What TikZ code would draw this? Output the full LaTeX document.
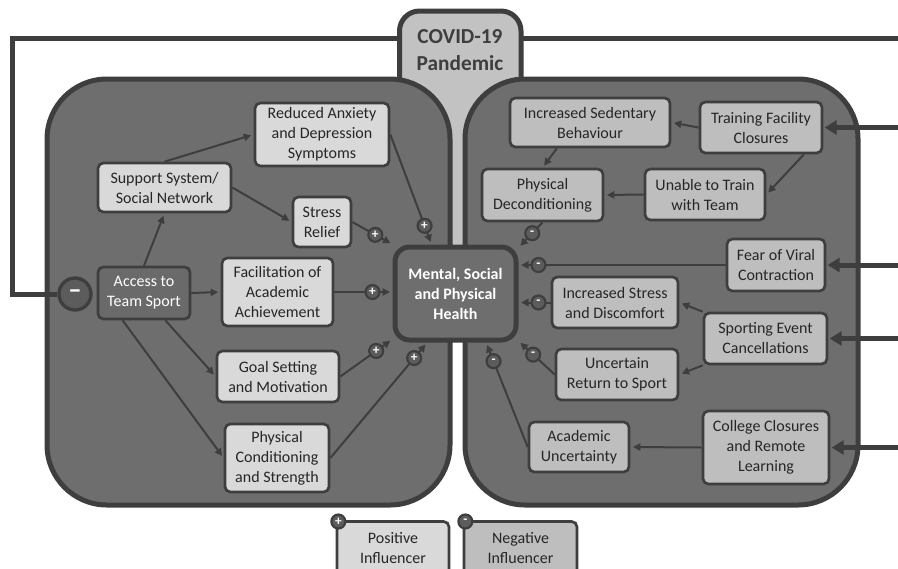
\documentclass[tikz,border=0pt]{standalone}
\usepackage{fontspec}
\setmainfont{Carlito}
\usetikzlibrary{arrows.meta,decorations.markings}

\begin{document}
\begin{tikzpicture}[x=0.75pt, y=-0.75pt,
	px/.style 2 args={minimum width=#1*0.75pt, minimum height=#2*0.75pt},
	basebox/.style={draw=linegray, line width=2pt, rounded corners=4pt, inner sep=0pt, align=center, text=textgray, font=\fontsize{12}{15}\selectfont},
	posbox/.style={basebox, fill=lightbox},
	negbox/.style={basebox, fill=midbox},
	panel/.style={draw=linegray, line width=3.75pt, fill=panelgray, rounded corners=45pt},
	signdot/.style={circle, draw=linegray, line width=1.6pt, fill=dotgray, text=white, inner sep=0pt, minimum size=10.5pt, font=\bfseries\fontsize{10}{10}\selectfont},
	link/.style={draw=linegray, line width=1.5pt, -{Triangle[length=5.5pt,width=5.5pt]}, shorten >=2pt},
	pluslink/.style={link, postaction={decorate}, decoration={markings, mark=at position -15pt with {\node[signdot]{+};}}},
	minuslink/.style={link, postaction={decorate}, decoration={markings, mark=at position -15pt with {\node[signdot]{-};}}},
	feed/.style={draw=linegray, line width=3.75pt},
	feedarrow/.style={feed, -{Triangle[length=9pt,width=10.5pt]}, shorten >=1pt}]
	\definecolor{linegray}{RGB}{62,62,62}
	\definecolor{panelgray}{RGB}{110,110,110}
	\definecolor{lightbox}{RGB}{217,217,217}
	\definecolor{midbox}{RGB}{190,190,190}
	\definecolor{covidgray}{RGB}{194,194,194}
	\definecolor{dotgray}{RGB}{92,92,92}
	\definecolor{accessgray}{RGB}{106,106,106}
	\definecolor{textgray}{RGB}{38,38,38}

	\useasboundingbox (0,0) rectangle (898,568);

	\node[draw=linegray, line width=3.75pt, fill=covidgray, rounded corners=15pt, px={121.5}{289}] (covid) at (460.25,155.5) {};
	\node[text=linegray, align=center, font=\bfseries\fontsize{16}{20}\selectfont] (covidtext) at (460,50) {COVID-19\\Pandemic};

	\draw[panel] (47,79) rectangle (450,505);
	\draw[panel] (465,79) rectangle (858,505);

	\node[draw=linegray, line width=3.75pt, fill=panelgray, rounded corners=11pt, px={121}{93}, align=center, text=white, font=\bfseries\fontsize{12}{15}\selectfont] (mh) at (455.5,293.5) {Mental, Social\\and Physical\\Health};

	\node[posbox, px={134}{63}] (rad) at (322,134.5) {Reduced Anxiety\\and Depression\\Symptoms};
	\node[posbox, px={133}{49}] (support) at (164.5,187.5) {Support System/\\Social Network};
	\node[posbox, px={58}{50}] (stress) at (322,222) {Stress\\Relief};
	\node[basebox, fill=accessgray, text=white, px={92}{52}] (access) at (144,293) {Access to\\Team Sport};
	\node[posbox, px={111}{68}] (fac) at (277.5,292) {Facilitation of\\Academic\\Achievement};
	\node[posbox, px={122}{51}] (goal) at (278,376.5) {Goal Setting\\and Motivation};
	\node[posbox, px={104}{68}] (pc) at (277,458) {Physical\\Conditioning\\and Strength};

	\node[negbox, px={160}{49}] (incsed) at (590,122.5) {Increased Sedentary\\Behaviour};
	\node[negbox, px={122}{51}] (training) at (761,127.5) {Training Facility\\Closures};
	\node[negbox, px={121}{52}] (pd) at (542.5,195) {Physical\\Deconditioning};
	\node[negbox, px={120}{51}] (unable) at (705,194.5) {Unable to Train\\with Team};
	\node[negbox, px={98}{52}] (fear) at (776,265) {Fear of Viral\\Contraction};
	\node[negbox, px={126}{51}] (incstress) at (615,302.5) {Increased Stress\\and Discomfort};
	\node[negbox, px={123}{51}] (sport) at (765.5,338.5) {Sporting Event\\Cancellations};
	\node[negbox, px={122}{51}] (ur) at (617,374.5) {Uncertain\\Return to Sport};
	\node[negbox, px={100}{50}] (au) at (579,447) {Academic\\Uncertainty};
	\node[negbox, px={126}{73}] (college) at (766,447.5) {College Closures\\and Remote\\Learning};

	\node[signdot, line width=2.5pt, minimum size=24pt, font=\bfseries\fontsize{20}{20}\selectfont] (minus) at (75,294) {--};

	\coordinate (rim) at (898,0);
	\coordinate (covidW) at (399.5,38);
	\coordinate (covidE) at (521,38);
	\coordinate (bend) at (12,38);
	\draw[feed] (covidW) -- (bend) |- (minus);
	\draw[feed] (covidE) -- (covidE -| rim);

	\draw[link] (access.north) -- (support.south);
	\draw[link] (support.north) -- (rad.west);
	\draw[link] (support.east) -- (stress.west);
	\draw[link] (access.east) -- (fac.west);
	\draw[link] (access.308) -- (goal.west);
	\draw[link] (access.232) -- (pc.west);
	\draw[pluslink] (rad.east) -- (mh.116);
	\draw[pluslink] (stress.east) -- (mh.142);
	\draw[pluslink] (fac.east) -- (fac.east -| mh.west);
	\draw[pluslink] (goal.east) -- (mh.216);
	\draw[pluslink] (pc.east) -- (mh.240);

	\draw[link] (training.west) -- (incsed.east);
	\draw[link] (incsed.218) -- (pd.north);
	\draw[link] (training.328) -- (unable.east);
	\draw[link] (unable.west) -- (pd.east);
	\draw[link] (sport.north west) -- (incstress.east);
	\draw[link] (sport.south west) -- (ur.east);
	\draw[link] (college.west) -- (au.east);
	\draw[minuslink] (pd.south) -- (mh.36);
	\draw[minuslink] (fear.west) -- (fear.west -| mh.east);
	\draw[minuslink] (incstress.west) -- (incstress.west -| mh.east);
	\draw[minuslink] (ur.west) -- (mh.323);
	\draw[minuslink] (au.west) -- (mh.302);

	\draw[feedarrow] (training.east -| rim) -- (training.east);
	\draw[feedarrow] (fear.east -| rim) -- (fear.east);
	\draw[feedarrow] (sport.east -| rim) -- (sport.east);
	\draw[feedarrow] (college.east -| rim) -- (college.east);

	\node[posbox, px={112}{54}] (posleg) at (393,548.5) {Positive\\Influencer};
	\node[negbox, px={113}{54}] (negleg) at (520.5,548.5) {Negative\\Influencer};
	\node[signdot] (posdot) at ([shift={(2pt,-1pt)}]posleg.north west) {+};
	\node[signdot] (negdot) at ([shift={(2pt,-1pt)}]negleg.north west) {-};
\end{tikzpicture}
\end{document}
